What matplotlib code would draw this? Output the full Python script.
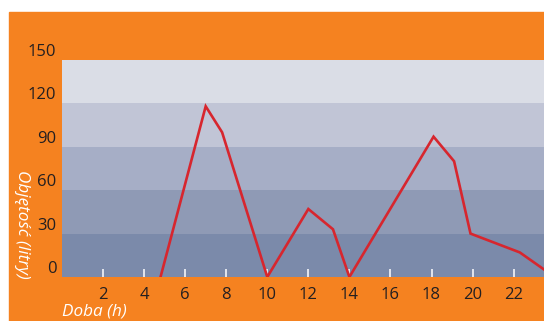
import matplotlib.pyplot as plt
from matplotlib.patches import Rectangle

# dane z wykresu
hours = [4.8, 7.0, 7.8, 10.0, 12.0, 13.2, 14.0, 18.1, 19.1, 19.9, 22.3, 24.0]
volume = [0, 118, 100, 0, 47, 33, 0, 97, 80, 30, 17, 0]
xticks = [2, 4, 6, 8, 10, 12, 14, 16, 18, 20, 22]
yticks = [0, 30, 60, 90, 120, 150]
band_colors = ["#7b8aaa", "#8f9ab5", "#a6aec6", "#c1c5d6", "#dadde6"]

orange = "#f58220"
plt.rcParams['font.family'] = ['Open Sans', 'DejaVu Sans']

fig = plt.figure(figsize=(5.44, 3.21), dpi=100, facecolor="white")
# pomarańczowe tło (biały margines u góry i z lewej)
fig.patches.append(Rectangle((9/544, 0), 1 - 9/544, (321-12)/321,
                             transform=fig.transFigure, color=orange, zorder=-10))

ax = fig.add_axes([62/544, (321-277)/321, 1 - 62/544, (277-60)/321])
ax.set_facecolor("none")

# pasy tła
for i, c in enumerate(band_colors):
    ax.axhspan(yticks[i], yticks[i+1], color=c, lw=0, zorder=0)

ax.plot(hours, volume, color="#d7262e", lw=1.9, zorder=3, solid_joinstyle="miter")

ax.set_xlim(0, 23.48)
ax.set_ylim(0, 150)
for s in ax.spines.values():
    s.set_visible(False)

ax.set_xticks(xticks)
ax.set_xticklabels([str(t) for t in xticks])
ax.tick_params(axis="x", direction="in", length=6, width=1.1, color="white",
               pad=7, labelsize=12, labelcolor="#231f20")
ax.set_yticks(yticks)
ax.set_yticklabels([str(t) for t in yticks], va="bottom")
ax.tick_params(axis="y", length=0, pad=4, labelsize=12, labelcolor="#231f20")

fig.text(62/544, 1 - 311/321, "Doba (h)", color="white", style="italic",
         fontsize=12.3, ha="left", va="center")
fig.text(22/544, 1 - 224/321, "Objętość (litry)", color="white", style="italic",
         fontsize=12.3, rotation=270, ha="center", va="center")

fig.savefig("out.png", dpi=100, facecolor="white")
